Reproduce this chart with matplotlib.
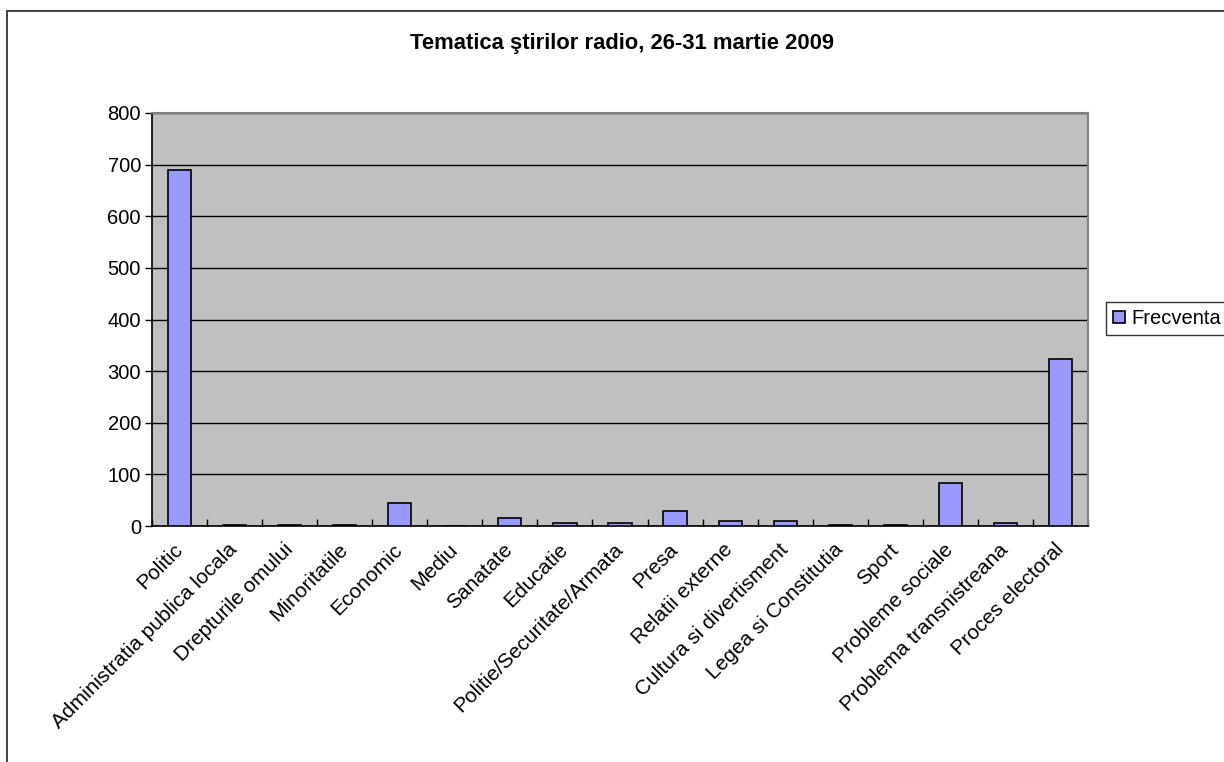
import numpy as np
import matplotlib
matplotlib.use("Agg")
import matplotlib.pyplot as plt
from matplotlib.patches import Rectangle

plt.rcParams['font.family'] = ['Liberation Sans', 'DejaVu Sans']

# data
categories = ['Politic', 'Administratia publica locala', 'Drepturile omului', 'Minoritatile',
              'Economic', 'Mediu', 'Sanatate', 'Educatie', 'Politie/Securitate/Armata',
              'Presa', 'Relatii externe', 'Cultura si divertisment', 'Legea si Constitutia',
              'Sport', 'Probleme sociale', 'Problema transnistreana', 'Proces electoral']
frecventa = [690, 2, 2, 2, 45, 0, 16, 6, 6, 29, 10, 10, 2, 2, 83, 6, 324]
yticks = [0, 100, 200, 300, 400, 500, 600, 700, 800]
title = 'Tematica ştirilor radio, 26-31 martie 2009'
series_name = 'Frecventa'

W, H = 1224, 762
fig = plt.figure(figsize=(W / 100, H / 100), dpi=100)

# outer chart frame (runs off the right and bottom of the picture)
fig.patches.append(Rectangle((7 / W, -0.1), 1.2, 1 - 11 / H + 0.1, transform=fig.transFigure,
                             fill=False, edgecolor='#333333', linewidth=1.3))

ax = fig.add_axes([152 / W, 1 - 526 / H, (1088 - 152) / W, (526 - 113) / H])
ax.set_facecolor('#C0C0C0')

x = np.arange(len(categories))
bars = ax.bar(x, frecventa, width=0.42, color='#9999FF', edgecolor='black', linewidth=1.2,
              label=series_name, zorder=3)

ax.set_xlim(-0.5, len(categories) - 0.5)
ax.set_ylim(0, 800)
ax.set_yticks(yticks)
ax.yaxis.grid(True, color='black', linewidth=1)
ax.set_axisbelow(True)

ax.set_xticks(x)
ax.set_xticklabels(categories, rotation=45, ha='right', va='center',
                   rotation_mode='anchor', fontsize=15)
ax.tick_params(axis='x', length=0, pad=15)
ax.set_xticks(np.arange(len(categories) + 1) - 0.5, minor=True)
ax.tick_params(axis='x', which='minor', direction='in', length=5, width=1, color='black')
ax.tick_params(axis='y', direction='out', length=5, width=1, labelsize=14.5, pad=3)

for side in ['top', 'right']:
    ax.spines[side].set_color('#808080')
    ax.spines[side].set_linewidth(1.5)
for side in ['left', 'bottom']:
    ax.spines[side].set_color('black')
    ax.spines[side].set_linewidth(1.2)

fig.text(622 / W, 1 - 44 / H, title, ha='center', va='center', fontsize=15.8, fontweight='bold')

leg = fig.legend(handles=[bars], labels=[series_name], loc='upper left',
                 bbox_to_anchor=(1106 / W, 1 - 302 / H), fontsize=14.5, frameon=True,
                 fancybox=False, edgecolor='black', handlelength=0.6, handleheight=0.6,
                 handletextpad=0.3, borderpad=0.35, borderaxespad=0)
leg.get_frame().set_linewidth(1)

fig.savefig('out.png', dpi=100)
